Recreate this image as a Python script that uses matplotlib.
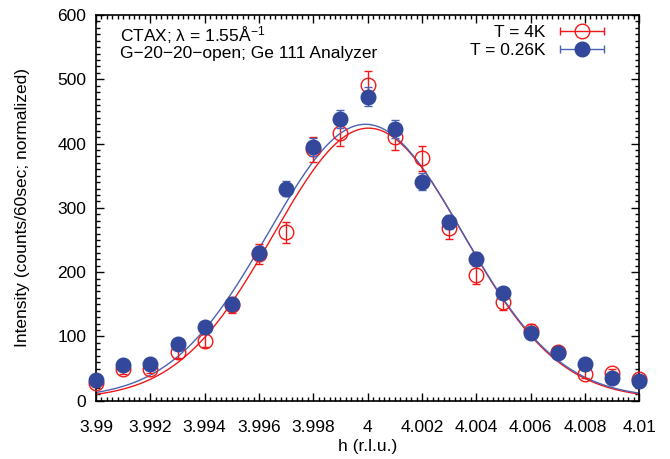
import numpy as np
import matplotlib
matplotlib.use("Agg")
import matplotlib.pyplot as plt
from matplotlib.ticker import MultipleLocator
from matplotlib.legend_handler import HandlerErrorbar

plt.rcParams['font.family'] = ['Liberation Sans', 'DejaVu Sans']
plt.rcParams['mathtext.fontset'] = 'custom'
plt.rcParams['mathtext.rm'] = 'Liberation Sans'
plt.rcParams['mathtext.it'] = 'Liberation Sans'
plt.rcParams['xtick.major.pad'] = 14
plt.rcParams['ytick.major.pad'] = 7

# data
h = [3.990, 3.991, 3.992, 3.993, 3.994, 3.995, 3.996, 3.997, 3.998, 3.999, 4.000,
     4.001, 4.002, 4.003, 4.004, 4.005, 4.006, 4.007, 4.008, 4.009, 4.010]

i_4k = [27, 49, 50, 75, 93, 149, 228, 262, 391, 417, 491,
        410, 377, 268, 195, 153, 109, 75, 41, 43, 33]
err_4k = [5, 7, 7, 9, 10, 12, 15, 16, 20, 20, 22,
          20, 19, 16, 14, 12, 10, 9, 6, 7, 6]

i_026k = [32, 55, 57, 88, 115, 151, 230, 330, 394, 439, 473,
          422, 341, 278, 221, 168, 105, 74, 57, 36, 30]
err_026k = [4, 5, 5, 6, 7, 8, 10, 12, 14, 14, 15,
            14, 13, 11, 10, 9, 7, 6, 5, 4, 4]

# gaussian fit parameters (amplitude, centre, sigma, background)
fit_4k = (421, 4.00003, 0.00350, 3)
fit_026k = (426, 3.99992, 0.00356, 4)

red = '#f21818'
blue = '#33489a'
blue_line = '#4a62b5'


def gauss(x, a, x0, s, bg):
    return bg + a * np.exp(-(x - x0) ** 2 / (2 * s ** 2))


fig = plt.figure(figsize=(6.7, 4.59), dpi=100)
ax = fig.add_axes([0.1433, 0.127, 0.8109, 0.8403])

xs = np.linspace(3.99, 4.01, 400)
ax.plot(xs, gauss(xs, *fit_4k), '-', color=red, lw=1.0)
ax.plot(xs, gauss(xs, *fit_026k), '-', color=blue_line, lw=1.0)

ax.errorbar(h, i_4k, yerr=err_4k, fmt='o', ms=10.5, mfc='none', mec=red, mew=1.0,
            ecolor=red, elinewidth=1.0, capsize=3, capthick=1.0,
            clip_on=False, zorder=3)
ax.errorbar(h, i_026k, yerr=err_026k, fmt='o', ms=10.5, mfc=blue, mec=blue, mew=1.0,
            ecolor=blue_line, elinewidth=1.0, capsize=3, capthick=1.0,
            clip_on=False, zorder=4)

# legend proxies with horizontal error bars (gnuplot style key)
p1 = ax.errorbar([np.nan], [np.nan], xerr=[1], fmt='o', ms=10.5, mfc='none', mec=red,
                 mew=1.0, ecolor=red, elinewidth=1.0, capsize=3, capthick=1.0,
                 label='T = 4K')
p2 = ax.errorbar([np.nan], [np.nan], xerr=[1], fmt='o', ms=10.5, mfc=blue, mec=blue,
                 mew=1.0, ecolor=blue_line, elinewidth=1.0, capsize=3, capthick=1.0,
                 label='T = 0.26K')

ax.set_xlim(3.99, 4.01)
ax.set_ylim(0, 600)
ax.set_xticks([3.99, 3.992, 3.994, 3.996, 3.998, 4.0, 4.002, 4.004, 4.006, 4.008, 4.01])
ax.set_xticklabels(['3.99', '3.992', '3.994', '3.996', '3.998', '4', '4.002', '4.004',
                    '4.006', '4.008', '4.01'])
ax.yaxis.set_major_locator(MultipleLocator(100))
ax.xaxis.set_minor_locator(MultipleLocator(0.0002))
ax.yaxis.set_minor_locator(MultipleLocator(10))
ax.tick_params(which='both', direction='in', top=True, right=True, labelsize=12.5, width=1.0)
ax.tick_params(which='major', length=6)
ax.tick_params(which='minor', length=3)
for sp in ax.spines.values():
    sp.set_linewidth(1.2)

ax.set_xlabel('h (r.l.u.)', fontsize=12.5, labelpad=3)
ax.set_ylabel('Intensity (counts/60sec; normalized)', fontsize=12.5, labelpad=20)

ax.text(0.045, 0.975, 'CTAX; λ = 1.55Å$^{-1}$\nG−20−20−open; Ge 111 Analyzer',
        transform=ax.transAxes, fontsize=12.5, va='top', ha='left', linespacing=0.95)

ax.legend(handles=[p1, p2], loc='upper right', frameon=False, markerfirst=False,
          fontsize=12.5, handlelength=3.0, borderaxespad=1.4, labelspacing=0.15,
          handletextpad=0.6, borderpad=0.4, bbox_to_anchor=(1.0, 1.055),
          handler_map={type(p1): HandlerErrorbar(xerr_size=1.25)})

fig.savefig('out.png', dpi=100)
